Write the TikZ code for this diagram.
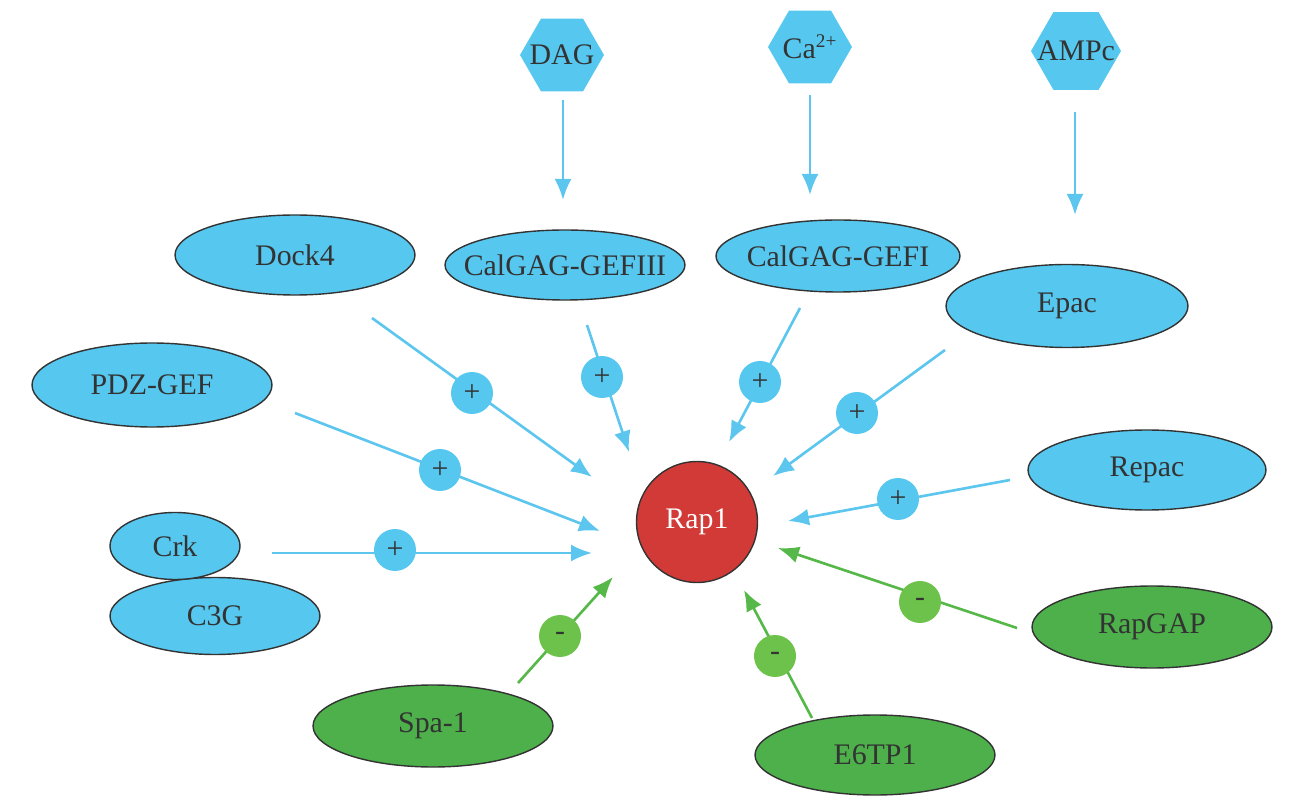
\documentclass[tikz,border=0pt]{standalone}
\usepackage{fontspec}
\setmainfont{Liberation Serif}
\usetikzlibrary{arrows.meta,shapes.geometric}
\definecolor{sky}{HTML}{56C8F0}
\definecolor{skyline}{HTML}{5CC6EE}
\definecolor{leaf}{HTML}{4DB04A}
\definecolor{leafline}{HTML}{55B848}
\definecolor{minus}{HTML}{6CC24A}
\definecolor{rapred}{HTML}{D13A37}
\definecolor{ink}{HTML}{333333}
\tikzset{hx/.style={regular polygon,regular polygon sides=6,fill=sky,minimum size=1.68cm,inner sep=0pt},
 hxt/.style={text=ink},
 gef/.style={ellipse,draw=ink,thick,fill=sky,minimum width=4.8cm,minimum height=1.6cm,inner sep=0pt,text=ink},
 gap/.style={ellipse,draw=ink,thick,fill=leaf,minimum width=4.8cm,minimum height=1.64cm,inner sep=0pt,text=ink},
 pl/.style={circle,fill=sky,minimum size=0.84cm,inner sep=0pt,text=ink},
 mi/.style={circle,fill=minus,minimum size=0.84cm,inner sep=0pt,text=ink},
 bflow/.style={-{Latex[length=4.2mm,width=3.4mm]},line width=1.5pt,draw=skyline},
 gflow/.style={-{Latex[length=4.2mm,width=3.4mm]},line width=1.5pt,draw=leafline}}
\begin{document}
\begin{tikzpicture}[x=0.02cm,y=-0.02cm,font=\fontsize{17}{19}\selectfont]
\useasboundingbox (0,0) rectangle (1291,803);
% messengers
\node[hx](dag) at(562,55){};
\node[hxt] at(dag.center){DAG};
\node[hx](ca) at(810,47){};
\node[hxt] at(ca.center){Ca\textsuperscript{\fontsize{11}{12}\selectfont 2+}};
\node[hx,minimum size=1.8cm](ampc) at(1076,51){};
\node[hxt] at(ampc.center){AMPc};
% central protein
\node[circle,draw=ink,thick,fill=rapred,minimum size=2.42cm,text=white](rap) at(697,522){Rap1};
% activators
\node[gef](dock) at(295,255){Dock4};
\node[gef,inner xsep=-0.34cm,minimum height=1.4cm](gef3) at(565,265){CalGAG-GEFIII};
\node[gef,inner xsep=-0.1cm,minimum height=1.44cm](gef1) at(838,256){CalGAG-GEFI};
\node[gef,minimum width=4.84cm,minimum height=1.66cm](epac) at(1067,306){Epac};
\node[gef,minimum height=1.68cm](pdz) at(152,385){PDZ-GEF};
\node[gef,minimum width=4.76cm](repac) at(1147,470){Repac};
\node[gef,minimum width=4.2cm,minimum height=1.54cm](c3g) at(215,616){C3G};
\node[gef,minimum width=2.6cm,minimum height=1.34cm](crk) at(175,546){Crk};
% inhibitors
\node[gap](rapgap) at(1152,627){RapGAP};
\node[gap](spa) at(433,726){Spa-1};
\node[gap,minimum height=1.6cm](e6tp) at(875,755){E6TP1};
% arrows from messengers
\coordinate (dag0) at(563,100); \coordinate (dag1) at(563,200);
\coordinate (ca0) at(810,95); \coordinate (ca1) at(810,195);
\coordinate (ampc0) at(1075,112); \coordinate (ampc1) at(1075,215);
\draw[bflow](dag0)--(dag1);
\draw[bflow](ca0)--(ca1);
\draw[bflow](ampc0)--(ampc1);
% activation arrows
\coordinate (dock0) at(372,318); \coordinate (dock1) at(592,477);
\coordinate (gef30) at(587,325); \coordinate (gef31) at(629,452);
\coordinate (gef10) at(800,308); \coordinate (gef11) at(729,442);
\coordinate (epac0) at(945,350); \coordinate (epac1) at(773,476);
\coordinate (pdz0) at(295,413); \coordinate (pdz1) at(600,531);
\coordinate (crk0) at(272,553); \coordinate (crk1) at(592,553);
\coordinate (repac0) at(1010,480); \coordinate (repac1) at(788,521);
\draw[bflow](dock0)--(dock1);
\draw[bflow](gef30)--(gef31);
\draw[bflow](gef10)--(gef11);
\draw[bflow](epac0)--(epac1);
\draw[bflow](pdz0)--(pdz1);
\draw[bflow](crk0)--(crk1);
\draw[bflow](repac0)--(repac1);
\node[pl](p1) at(472,393){+};
\node[pl](p2) at(602,377){+};
\node[pl](p3) at(760,382){+};
\node[pl](p4) at(857,413){+};
\node[pl](p5) at(440,470){+};
\node[pl](p6) at(395,550){+};
\node[pl](p7) at(898,499){+};
% inhibition arrows
\coordinate (rapgap0) at(1017,628); \coordinate (rapgap1) at(778,548);
\coordinate (e6tp0) at(812,718); \coordinate (e6tp1) at(744,590);
\coordinate (spa0) at(518,683); \coordinate (spa1) at(613,577);
\draw[gflow](rapgap0)--(rapgap1);
\draw[gflow](e6tp0)--(e6tp1);
\draw[gflow](spa0)--(spa1);
\node[mi](m1) at(920,602){-};
\node[mi](m2) at(775,656){-};
\node[mi](m3) at(560,636){-};
\end{tikzpicture}
\end{document}
